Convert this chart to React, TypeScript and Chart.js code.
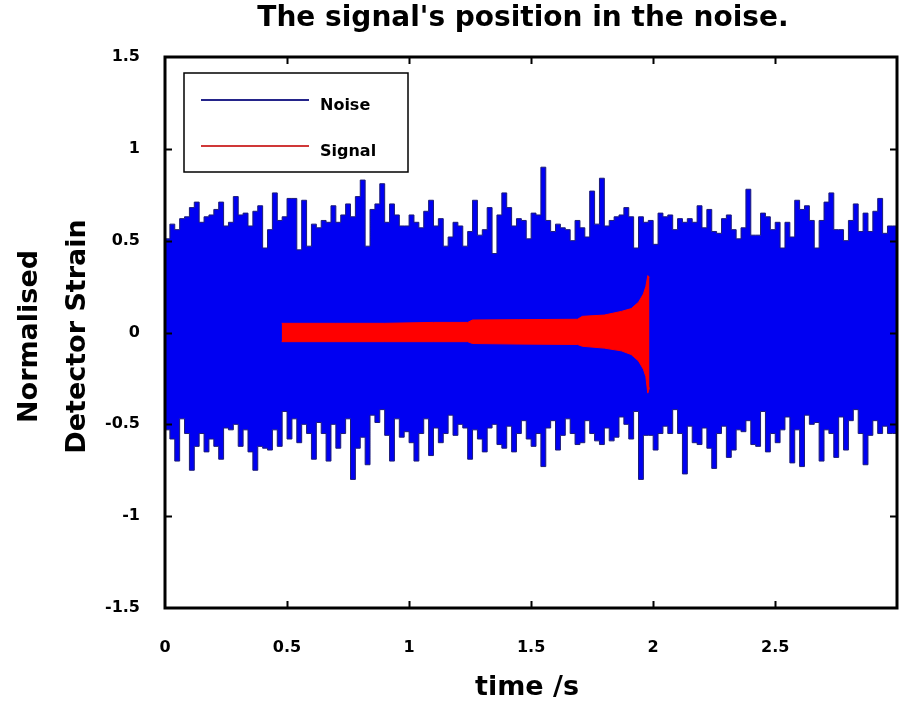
import React, { useEffect, useRef } from "react";
import { Chart, registerables } from "chart.js";

Chart.register(...registerables);

const titleText = "The signal's position in the noise.";
const xLabel = "time /s";
const yLabelLines = ["Normalised", "Detector Strain"];
const xTicks = [0, 0.5, 1, 1.5, 2, 2.5];
const yTicks = [-1.5, -1, -0.5, 0, 0.5, 1, 1.5];
const xMin = 0;
const xMax = 2.999;
const yMin = -1.5;
const yMax = 1.5;

// noise envelope sampled every 0.02 s from t = 0
const noiseStart = 0;
const noiseStep = 0.02;
const noiseUpper = [
  0.63, 0.51, 0.59, 0.56, 0.62, 0.63, 0.68, 0.71, 0.6, 0.63,
  0.64, 0.67, 0.71, 0.58, 0.6, 0.74, 0.64, 0.65, 0.58, 0.66,
  0.69, 0.46, 0.56, 0.76, 0.61, 0.63, 0.73, 0.73, 0.45, 0.72,
  0.47, 0.59, 0.57, 0.61, 0.6, 0.69, 0.6, 0.64, 0.7, 0.63,
  0.74, 0.83, 0.47, 0.67, 0.7, 0.81, 0.6, 0.7, 0.64, 0.58,
  0.58, 0.64, 0.6, 0.57, 0.66, 0.72, 0.58, 0.62, 0.47, 0.52,
  0.6, 0.58, 0.47, 0.55, 0.72, 0.53, 0.56, 0.68, 0.43, 0.64,
  0.76, 0.68, 0.58, 0.62, 0.61, 0.51, 0.65, 0.64, 0.9, 0.61,
  0.55, 0.59, 0.57, 0.56, 0.5, 0.61, 0.57, 0.52, 0.77, 0.59,
  0.84, 0.58, 0.61, 0.63, 0.64, 0.68, 0.63, 0.46, 0.63, 0.6,
  0.61, 0.48, 0.65, 0.63, 0.64, 0.56, 0.62, 0.6, 0.62, 0.6,
  0.69, 0.57, 0.67, 0.55, 0.54, 0.62, 0.64, 0.56, 0.51, 0.57,
  0.78, 0.53, 0.53, 0.65, 0.63, 0.56, 0.6, 0.46, 0.6, 0.52,
  0.72, 0.67, 0.69, 0.61, 0.46, 0.61, 0.71, 0.76, 0.56, 0.56,
  0.5, 0.61, 0.7, 0.55, 0.65, 0.55, 0.66, 0.73, 0.54, 0.58,
];
const noiseLower = [
  -0.59, -0.53, -0.58, -0.7, -0.47, -0.55, -0.75, -0.62, -0.55, -0.65,
  -0.58, -0.62, -0.69, -0.52, -0.53, -0.5, -0.62, -0.53, -0.65, -0.75,
  -0.62, -0.63, -0.64, -0.53, -0.62, -0.43, -0.58, -0.47, -0.6, -0.5,
  -0.55, -0.69, -0.49, -0.55, -0.7, -0.5, -0.63, -0.55, -0.47, -0.8,
  -0.63, -0.57, -0.72, -0.45, -0.49, -0.42, -0.56, -0.7, -0.47, -0.57,
  -0.54, -0.6, -0.7, -0.55, -0.47, -0.67, -0.52, -0.6, -0.55, -0.45,
  -0.56, -0.5, -0.52, -0.69, -0.53, -0.58, -0.65, -0.52, -0.5, -0.61,
  -0.63, -0.51, -0.65, -0.55, -0.48, -0.58, -0.62, -0.55, -0.73, -0.52,
  -0.48, -0.64, -0.56, -0.47, -0.55, -0.61, -0.6, -0.48, -0.55, -0.59,
  -0.61, -0.52, -0.59, -0.57, -0.46, -0.5, -0.58, -0.43, -0.8, -0.56,
  -0.56, -0.64, -0.55, -0.51, -0.55, -0.42, -0.55, -0.77, -0.51, -0.6,
  -0.61, -0.52, -0.63, -0.74, -0.55, -0.51, -0.68, -0.64, -0.53, -0.54,
  -0.48, -0.61, -0.62, -0.43, -0.65, -0.55, -0.6, -0.53, -0.46, -0.71,
  -0.53, -0.73, -0.45, -0.5, -0.49, -0.7, -0.53, -0.55, -0.68, -0.46,
  -0.64, -0.48, -0.42, -0.55, -0.72, -0.56, -0.48, -0.55, -0.51, -0.55,
];

// chirp signal envelope
const signalTimes = [0.478, 0.7, 0.9, 1.1, 1.24, 1.26, 1.45, 1.69, 1.71, 1.8, 1.87, 1.91, 1.94, 1.96, 1.97, 1.978, 1.985];
const signalUpper = [0.05, 0.05, 0.05, 0.055, 0.055, 0.068, 0.07, 0.072, 0.088, 0.095, 0.115, 0.13, 0.165, 0.21, 0.25, 0.31, 0.3];
const signalLower = [-0.05, -0.05, -0.05, -0.05, -0.05, -0.06, -0.063, -0.065, -0.075, -0.085, -0.1, -0.12, -0.155, -0.2, -0.24, -0.33, -0.3];

const FONT = "'DejaVu Sans', 'Liberation Sans', Arial, sans-serif";

function steppedPoints(values: number[]) {
  const pts = values.map((v, i) => ({ x: noiseStart + i * noiseStep, y: v }));
  pts.push({ x: noiseStart + values.length * noiseStep, y: values[values.length - 1] });
  return pts;
}

const framePlugin = {
  id: "frame",
  afterDatasetsDraw(chart: any) {
    const { ctx, chartArea: a, scales } = chart;
    ctx.save();
    ctx.strokeStyle = "#000";
    ctx.lineWidth = 2;
    const tl = 7;
    ctx.beginPath();
    xTicks.forEach((v) => {
      const px = Math.round(scales.x.getPixelForValue(v)) + 0.5;
      if (px <= a.left + 2 || px >= a.right - 2) return;
      ctx.moveTo(px, a.bottom);
      ctx.lineTo(px, a.bottom - tl);
      ctx.moveTo(px, a.top);
      ctx.lineTo(px, a.top + tl);
    });
    yTicks.forEach((v) => {
      const py = Math.round(scales.y.getPixelForValue(v)) + 0.5;
      if (py <= a.top + 2 || py >= a.bottom - 2) return;
      ctx.moveTo(a.left, py);
      ctx.lineTo(a.left + tl, py);
      ctx.moveTo(a.right, py);
      ctx.lineTo(a.right - tl, py);
    });
    ctx.stroke();
    ctx.lineWidth = 3;
    ctx.strokeRect(a.left, a.top, a.right - a.left, a.bottom - a.top);
    ctx.restore();
  },
};

const legendPlugin = {
  id: "boxLegend",
  afterDatasetsDraw(chart: any) {
    const { ctx, chartArea: a } = chart;
    const items = chart.data.datasets.filter((d: any) => d.label);
    const bx = a.left + 19;
    const by = a.top + 16;
    const bw = 224;
    const bh = 99;
    ctx.save();
    ctx.fillStyle = "#fff";
    ctx.fillRect(bx, by, bw, bh);
    ctx.strokeStyle = "#000";
    ctx.lineWidth = 1.5;
    ctx.strokeRect(bx, by, bw, bh);
    ctx.font = `bold 16px ${FONT}`;
    ctx.textBaseline = "middle";
    ctx.textAlign = "left";
    items.forEach((d: any, i: number) => {
      const y = by + 27 + i * 46;
      ctx.strokeStyle = d.legendColor || d.borderColor;
      ctx.lineWidth = 2;
      ctx.beginPath();
      ctx.moveTo(bx + 17, y);
      ctx.lineTo(bx + 125, y);
      ctx.stroke();
      ctx.fillStyle = "#000";
      ctx.fillText(d.label, bx + 136, y + 6);
    });
    ctx.restore();
  },
};

const textPlugin = {
  id: "texts",
  afterDraw(chart: any) {
    const { ctx, chartArea: a } = chart;
    const cx = (a.left + a.right) / 2;
    const cy = (a.top + a.bottom) / 2;
    ctx.save();
    ctx.fillStyle = "#000";
    ctx.textAlign = "center";
    ctx.textBaseline = "middle";
    ctx.font = `bold 28px ${FONT}`;
    ctx.fillText(titleText, cx - 8, 19);
    ctx.font = `bold 27px ${FONT}`;
    ctx.fillText(xLabel, cx - 4, 688);
    ctx.translate(0, cy + 4);
    ctx.rotate(-Math.PI / 2);
    ctx.font = `bold 27px ${FONT}`;
    ctx.fillText(yLabelLines[0], 0, 30);
    ctx.fillText(yLabelLines[1], 0, 78);
    ctx.restore();
  },
};

export default function App() {
  const ref = useRef<HTMLCanvasElement | null>(null);
  useEffect(() => {
    if (!ref.current) return;
    const chart = new Chart(ref.current, {
      type: "line",
      data: {
        datasets: [
          {
            label: "Noise",
            data: steppedPoints(noiseUpper),
            stepped: "after",
            borderColor: "#1c1c78",
            legendColor: "#24248a",
            borderWidth: 1,
            backgroundColor: "#0000f2",
            fill: "+1",
            pointRadius: 0,
            order: 4,
          } as any,
          {
            label: "",
            data: steppedPoints(noiseLower),
            stepped: "after",
            borderColor: "#1c1c78",
            borderWidth: 1,
            backgroundColor: "#0000f2",
            fill: false,
            pointRadius: 0,
            order: 3,
          } as any,
          {
            label: "Signal",
            data: signalTimes.map((t, i) => ({ x: t, y: signalUpper[i] })),
            borderColor: "#ff0000",
            legendColor: "#d03838",
            borderWidth: 1,
            backgroundColor: "#ff0000",
            fill: "+1",
            pointRadius: 0,
            order: 2,
          } as any,
          {
            label: "",
            data: signalTimes.map((t, i) => ({ x: t, y: signalLower[i] })),
            borderColor: "#ff0000",
            borderWidth: 1,
            fill: false,
            pointRadius: 0,
            order: 1,
          } as any,
        ],
      },
      options: {
        animation: false,
        responsive: true,
        maintainAspectRatio: false,
        layout: { padding: { top: 57, right: 6, left: 0, bottom: 0 } },
        plugins: {
          legend: { display: false },
          tooltip: { enabled: false },
          title: { display: false },
        },
        scales: {
          x: {
            type: "linear",
            min: xMin,
            max: xMax,
            grid: { display: false },
            border: { display: false },
            afterBuildTicks: (s: any) => {
              s.ticks = xTicks.map((v) => ({ value: v }));
            },
            afterFit: (s: any) => {
              s.height = 95;
            },
            ticks: {
              autoSkip: false,
              maxRotation: 0,
              padding: 22,
              color: "#000",
              font: { family: FONT, size: 16, weight: "bold" },
              callback: (v: any) => String(v),
            },
          },
          y: {
            type: "linear",
            min: yMin,
            max: yMax,
            grid: { display: false },
            border: { display: false },
            afterBuildTicks: (s: any) => {
              s.ticks = yTicks.map((v) => ({ value: v }));
            },
            afterFit: (s: any) => {
              s.width = 165;
            },
            ticks: {
              autoSkip: false,
              padding: 17,
              color: "#000",
              font: { family: FONT, size: 16, weight: "bold" },
              callback: (v: any) => String(v),
            },
          },
        },
      } as any,
      plugins: [framePlugin, legendPlugin, textPlugin],
    });
    return () => chart.destroy();
  }, []);
  return (
    <div style={{ position: "absolute", left: 0, top: 0, width: 903, height: 703, background: "#fff" }}>
      <canvas ref={ref} />
    </div>
  );
}
